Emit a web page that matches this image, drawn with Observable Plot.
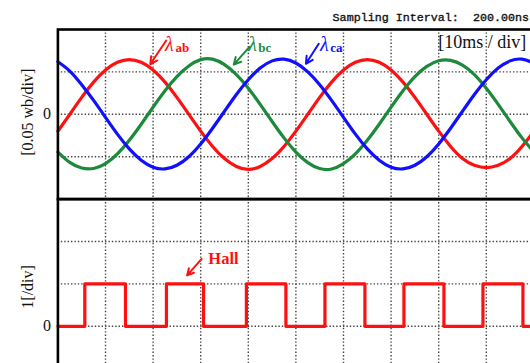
<!DOCTYPE html>
<html>
<head>
<meta charset="utf-8">
<script src="https://cdn.jsdelivr.net/npm/d3@7"></script>
<script src="https://cdn.jsdelivr.net/npm/@observablehq/plot@0.6"></script>
<style>
  html, body { margin: 0; padding: 0; background: #fff; }
  #scope { position: relative; width: 530px; height: 363px; overflow: hidden; background: #fff; }
  #scope svg { position: absolute; left: 0; max-width: none; background: transparent; overflow: visible; }
  #scope svg text { white-space: pre; }
</style>
</head>
<body>
<div id="scope"></div>
<script>
// Oscilloscope capture: three phase flux linkages (top) and the Hall sensor signal (bottom).
// Time in ms (10 ms per division), flux in Wb (0.05 Wb per division).

const timeMs = [0,2.5,5,7.5,10,12.5,15,17.5,20,22.5,25,27.5,30,32.5,35,37.5,40,42.5,45,47.5,
  50,52.5,55,57.5,60,62.5,65,67.5,70,72.5,75,77.5,80,82.5,85,87.5,90,92.5,95,97.5,100];

const lambdaAB = [-0.0199,0,0.0199,0.0379,0.0522,0.0613,0.0645,0.0613,0.0522,0.0379,0.0199,0,
  -0.0199,-0.0379,-0.0522,-0.0615,-0.0650,-0.0615,-0.0522,-0.0379,-0.0199,0,0.0199,0.0379,
  0.0522,0.0613,0.0645,0.0613,0.0522,0.0379,0.0199,0,-0.0199,-0.0379,-0.0520,-0.0600,-0.0628,
  -0.0600,-0.0520,-0.0379,-0.0199];

const lambdaBC = [-0.0445,-0.0567,-0.0634,-0.0639,-0.0582,-0.0467,-0.0307,-0.0117,0.0085,0.0278,
  0.0445,0.0570,0.0645,0.0650,0.0585,0.0467,0.0307,0.0117,-0.0085,-0.0278,-0.0445,-0.0570,
  -0.0640,-0.0645,-0.0582,-0.0467,-0.0307,-0.0117,0.0085,0.0278,0.0445,0.0565,0.0632,0.0636,
  0.0580,0.0467,0.0307,0.0117,-0.0085,-0.0278,-0.0445];

const lambdaCA = [0.0620,0.0510,0.0349,0.0164,-0.0036,-0.0234,-0.0408,-0.0542,-0.0624,-0.0644,
  -0.0601,-0.0500,-0.0349,-0.0164,0.0036,0.0234,0.0408,0.0545,0.0630,0.0650,0.0605,0.0500,
  0.0349,0.0164,-0.0036,-0.0234,-0.0408,-0.0542,-0.0624,-0.0644,-0.0601,-0.0500,-0.0349,
  -0.0164,0.0036,0.0234,0.0408,0.0545,0.0630,0.0650,0.0605];

const hallTimeMs = [0,5.65,14.2,22.8,30.6,39.6,47.9,56.1,64.5,72.7,81.1,89.3,97.7,100];
const hallLevel  = [0,1,0,1,0,1,0,1,0,1,0,1,0,0];

const gridTimes = [10,20,30,40,50,60,70,80,90];
const fluxGrid = [-0.05, 0, 0.05];
const hallGrid = [0, 1, 2];

const RED = "#ff1010", GREEN = "#1d8a3b", BLUE = "#1010ff";
const serif = "'Liberation Serif','Times New Roman',serif";
const mono = "'Liberation Mono','Courier New',monospace";

const phases = [
  {name: "ab", values: lambdaAB, color: RED},
  {name: "bc", values: lambdaBC, color: GREEN},
  {name: "ca", values: lambdaCA, color: BLUE}
];
const fluxRows = phases.flatMap(p => timeMs.map((t, i) => ({t, v: p.values[i], name: p.name, color: p.color})));
const hallRows = hallTimeMs.map((t, i) => ({t, h: hallLevel[i]}));

// label anchors: λ position, subscript position, arrow tail → head
const phaseNotes = [
  {sub: "ab", color: RED,   t: 22.5, v: 0.0752, st: 24.7, sv: 0.0729, t1: 22.75, v1: 0.0870, t2: 19.4, v2: 0.0590},
  {sub: "bc", color: GREEN, t: 40.0, v: 0.0752, st: 42.1, sv: 0.0729, t1: 40.25, v1: 0.0795, t2: 36.95, v2: 0.0586},
  {sub: "ca", color: BLUE,  t: 55.05, v: 0.0752, st: 57.2, sv: 0.0729, t1: 54.8, v1: 0.0832, t2: 52.1, v2: 0.0596}
];
const hallNote = [{label: "Hall", t: 31.6, h: 1.47, t1: 30.2, h1: 1.59, t2: 27.15, h2: 1.2}];

const dotted = {stroke: "#444", strokeWidth: 1.4, strokeDasharray: "1.4,2"};
const common = {width: 536, marginLeft: 57.4, marginRight: 2.6, color: {type: "identity"}};
const zeroTick = {tickSize: 0, tickPadding: 7, label: null, tickFormat: d => String(d),
  fontSize: 16, fontFamily: serif, fill: "#111"};
const sideTitle = {frameAnchor: "left", rotate: -90, textAnchor: "middle", lineAnchor: "middle",
  dx: -30, fontSize: 16, fontFamily: serif, fill: "#111"};

const topPanel = Plot.plot({
  ...common,
  height: 200, marginTop: 29, marginBottom: 1.4,
  x: {domain: [0, 100], axis: null},
  y: {domain: [-0.1, 0.1], axis: null},
  marks: [
    Plot.ruleX(gridTimes, dotted),
    Plot.ruleY(fluxGrid, dotted),
    ...phases.map(p => Plot.line(fluxRows.filter(d => d.name === p.name),
      {x: "t", y: "v", stroke: p.color, strokeWidth: 3.2, curve: "natural"})),
    Plot.frame({stroke: "#000", strokeWidth: 2.6}),
    Plot.axisY([0], zeroTick),
    Plot.text(["[0.05 wb/div]"], {...sideTitle, dy: -2}),
    Plot.text(["Sampling Interval:  200.00ns"], {frameAnchor: "top-right", textAnchor: "end",
      lineAnchor: "bottom", dx: -4.9, dy: -8.5, fontSize: 11.7, fontFamily: mono, fill: "#111",
      stroke: "#111", strokeWidth: 0.35}),
    Plot.text(["[10ms / div]"], {frameAnchor: "top-left", textAnchor: "start", lineAnchor: "bottom",
      dx: 380.3, dy: 18.3, fontSize: 18, fontFamily: serif, fill: "#111"}),
    Plot.arrow(phaseNotes, {x1: "t1", y1: "v1", x2: "t2", y2: "v2", stroke: "color",
      strokeWidth: 2, headLength: 6, headAngle: 55}),
    Plot.text(phaseNotes, {x: "t", y: "v", text: () => "λ", fill: "color", textAnchor: "start",
      lineAnchor: "bottom", fontSize: 20, fontStyle: "italic", fontFamily: serif}),
    Plot.text(phaseNotes, {x: "st", y: "sv", text: "sub", fill: "color", textAnchor: "start",
      lineAnchor: "bottom", fontSize: 13, fontWeight: "bold", fontFamily: serif})
  ]
});

const hallPanel = Plot.plot({
  ...common,
  height: 182.2, marginTop: 8.6, marginBottom: 4,
  x: {domain: [0, 100], axis: null},
  y: {domain: [-1, 3], axis: null},
  marks: [
    Plot.ruleX(gridTimes, dotted),
    Plot.ruleY(hallGrid, dotted),
    Plot.line(hallRows, {x: "t", y: "h", stroke: RED, strokeWidth: 3.2, curve: "step-after"}),
    Plot.frame({stroke: "#000", strokeWidth: 2.6}),
    Plot.axisY([0], zeroTick),
    Plot.text(["1[/div]"], {...sideTitle, dy: 3}),
    Plot.arrow(hallNote, {x1: "t1", y1: "h1", x2: "t2", y2: "h2", stroke: RED,
      strokeWidth: 2, headLength: 6, headAngle: 55}),
    Plot.text(hallNote, {x: "t", y: "h", text: "label", fill: RED, textAnchor: "start",
      lineAnchor: "bottom", fontSize: 16.5, fontWeight: "bold", fontFamily: serif})
  ]
});

const scope = document.getElementById("scope");
topPanel.style.top = "0px";
hallPanel.style.top = "190px";
scope.appendChild(hallPanel);
scope.appendChild(topPanel);
</script>
</body>
</html>
